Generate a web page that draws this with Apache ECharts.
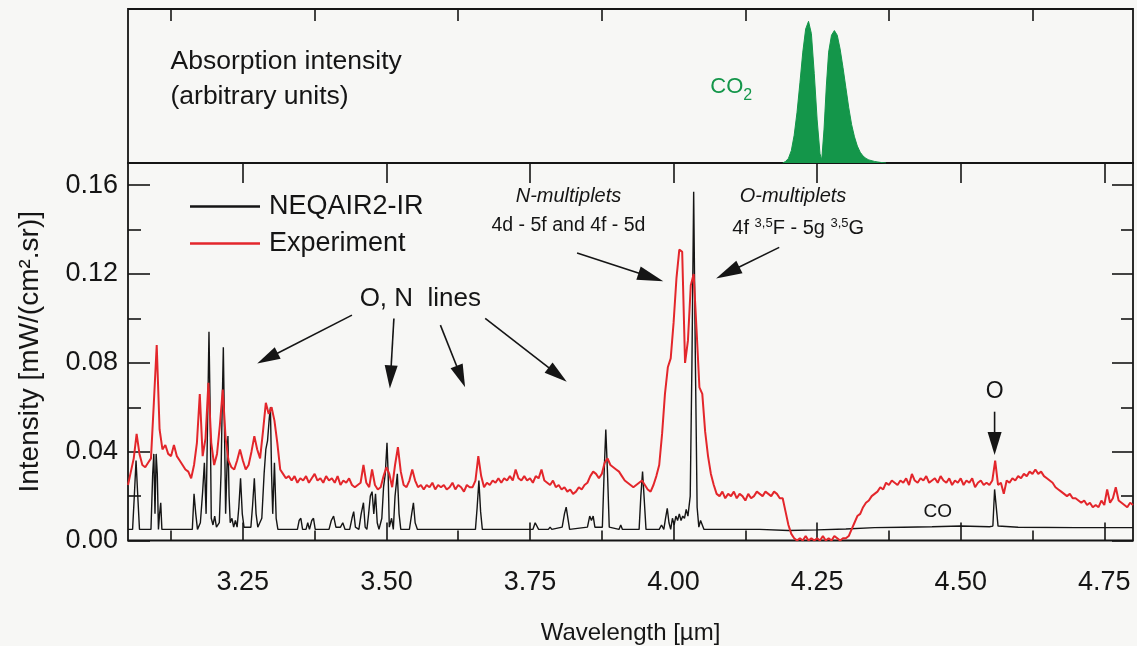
<!DOCTYPE html>
<html>
<head>
<meta charset="utf-8">
<script src="https://cdn.jsdelivr.net/npm/echarts@6/dist/echarts.min.js"></script>
<style>
  html, body { margin: 0; padding: 0; background: #f7f7f5; }
  #chart { width: 1137px; height: 646px; }
</style>
</head>
<body>
<div id="chart"></div>
<script>
// ---- tick values ----
const majorX = [3.25, 3.5, 3.75, 4.0, 4.25, 4.5, 4.75];
const minorX = [3.125, 3.375, 3.625, 3.875, 4.125, 4.375, 4.625];
const majorY = [0, 0.04, 0.08, 0.12, 0.16];
const minorY = [0.02, 0.06, 0.1, 0.14];

// ---- CO2 absorption (top panel, arbitrary units) ----
const co2Wl = [4.190, 4.195, 4.200, 4.205, 4.210, 4.215, 4.220, 4.225, 4.230, 4.235,
  4.240, 4.245, 4.250, 4.255, 4.258, 4.262, 4.266, 4.270, 4.275, 4.280,
  4.285, 4.290, 4.295, 4.300, 4.305, 4.310, 4.315, 4.320, 4.325, 4.330,
  4.335, 4.340, 4.350, 4.360, 4.370];
const co2Abs = [0, 0.01, 0.03, 0.08, 0.18, 0.33, 0.52, 0.72, 0.87, 0.92,
  0.84, 0.58, 0.28, 0.06, 0.02, 0.22, 0.50, 0.72, 0.83, 0.86,
  0.83, 0.74, 0.62, 0.49, 0.36, 0.25, 0.17, 0.11, 0.07, 0.045,
  0.03, 0.02, 0.01, 0.004, 0];

// ---- NEQAIR2-IR simulation ----
const neqairWl = [
  3.050, 3.058, 3.061, 3.064, 3.067, 3.070, 3.090, 3.093, 3.095, 3.097,
  3.099, 3.101, 3.103, 3.105, 3.107, 3.109, 3.162, 3.165, 3.168, 3.171,
  3.176, 3.180, 3.183, 3.186, 3.189, 3.191, 3.193, 3.195, 3.198, 3.201,
  3.204, 3.209, 3.212, 3.214, 3.216, 3.218, 3.220, 3.222, 3.224, 3.226,
  3.228, 3.231, 3.234, 3.237, 3.240, 3.243, 3.246, 3.249, 3.252, 3.264,
  3.267, 3.270, 3.273, 3.276, 3.283, 3.287, 3.290, 3.293, 3.296, 3.298,
  3.300, 3.302, 3.305, 3.308, 3.311, 3.345, 3.348, 3.351, 3.354, 3.360,
  3.363, 3.366, 3.370, 3.373, 3.376, 3.400, 3.404, 3.408, 3.412, 3.420,
  3.424, 3.428, 3.436, 3.440, 3.443, 3.446, 3.452, 3.456, 3.460, 3.463,
  3.466, 3.469, 3.472, 3.475, 3.478, 3.481, 3.484, 3.487, 3.492, 3.495,
  3.498, 3.501, 3.503, 3.505, 3.509, 3.512, 3.515, 3.519, 3.522, 3.525,
  3.540, 3.544, 3.547, 3.550, 3.554, 3.655, 3.658, 3.661, 3.664, 3.667,
  3.755, 3.759, 3.762, 3.765, 3.782, 3.785, 3.788, 3.806, 3.810, 3.813,
  3.816, 3.819, 3.850, 3.854, 3.857, 3.860, 3.863, 3.876, 3.879, 3.882,
  3.885, 3.888, 3.905, 3.908, 3.911, 3.940, 3.943, 3.946, 3.949, 3.952,
  3.975, 3.979, 3.983, 3.986, 3.989, 3.992, 3.995, 3.998, 4.001, 4.004,
  4.007, 4.010, 4.013, 4.016, 4.019, 4.022, 4.025, 4.029, 4.032, 4.035,
  4.038, 4.041, 4.044, 4.047, 4.050, 4.053, 4.150, 4.200, 4.250, 4.300,
  4.350, 4.400, 4.450, 4.500, 4.550, 4.556, 4.559, 4.562, 4.565, 4.600,
  4.700, 4.800];
const neqairInt = [
  0.005, 0.005, 0.020, 0.036, 0.020, 0.005, 0.005, 0.030, 0.039, 0.012,
  0.039, 0.030, 0.005, 0.012, 0.017, 0.005, 0.005, 0.021, 0.012, 0.005,
  0.008, 0.022, 0.035, 0.012, 0.060, 0.094, 0.060, 0.010, 0.007, 0.011,
  0.006, 0.008, 0.030, 0.060, 0.087, 0.050, 0.012, 0.030, 0.047, 0.020,
  0.008, 0.010, 0.006, 0.009, 0.006, 0.015, 0.028, 0.012, 0.006, 0.006,
  0.016, 0.028, 0.012, 0.006, 0.010, 0.030, 0.041, 0.045, 0.055, 0.060,
  0.030, 0.012, 0.035, 0.010, 0.005, 0.005, 0.009, 0.010, 0.005, 0.005,
  0.008, 0.005, 0.009, 0.010, 0.005, 0.005, 0.009, 0.011, 0.006, 0.006,
  0.008, 0.005, 0.005, 0.010, 0.013, 0.006, 0.005, 0.012, 0.017, 0.006,
  0.005, 0.012, 0.020, 0.022, 0.012, 0.021, 0.008, 0.005, 0.010, 0.024,
  0.030, 0.044, 0.030, 0.006, 0.010, 0.005, 0.020, 0.030, 0.012, 0.005,
  0.005, 0.012, 0.017, 0.008, 0.005, 0.005, 0.015, 0.027, 0.013, 0.005,
  0.005, 0.008, 0.008, 0.005, 0.005, 0.006, 0.005, 0.006, 0.012, 0.015,
  0.010, 0.005, 0.006, 0.011, 0.009, 0.011, 0.006, 0.006, 0.030, 0.050,
  0.030, 0.006, 0.005, 0.007, 0.005, 0.005, 0.020, 0.031, 0.018, 0.005,
  0.005, 0.007, 0.005, 0.010, 0.0145, 0.008, 0.005, 0.010, 0.007, 0.011,
  0.009, 0.012, 0.009, 0.011, 0.010, 0.014, 0.011, 0.020, 0.080, 0.157,
  0.080, 0.015, 0.006, 0.009, 0.009, 0.005, 0.005, 0.0045, 0.0048, 0.0052,
  0.0058, 0.006, 0.0062, 0.0065, 0.0062, 0.0065, 0.023, 0.023, 0.0065, 0.006,
  0.0058, 0.0058];

// ---- Experiment (sampled every 0.005 um from 3.050 um) ----
const expStart = 3.05;
const expStep = 0.005;
const expInt = [
  0.025, 0.031, 0.037, 0.048, 0.039, 0.034, 0.033, 0.035, 0.037, 0.062, // 3.05
  0.088, 0.050, 0.041, 0.043, 0.039, 0.038, 0.043, 0.038, 0.036, 0.034, // 3.10
  0.032, 0.031, 0.028, 0.034, 0.044, 0.066, 0.038, 0.046, 0.071, 0.044, // 3.15
  0.034, 0.039, 0.052, 0.068, 0.046, 0.036, 0.033, 0.032, 0.036, 0.041, // 3.20
  0.036, 0.032, 0.034, 0.040, 0.047, 0.041, 0.037, 0.049, 0.062, 0.057, // 3.25
  0.060, 0.054, 0.044, 0.032, 0.030, 0.028, 0.029, 0.027, 0.029, 0.026, // 3.30
  0.028, 0.027, 0.029, 0.026, 0.028, 0.030, 0.027, 0.028, 0.026, 0.029, // 3.35
  0.027, 0.028, 0.026, 0.029, 0.025, 0.027, 0.026, 0.028, 0.025, 0.024, // 3.40
  0.025, 0.026, 0.034, 0.026, 0.024, 0.032, 0.025, 0.023, 0.024, 0.029, // 3.45
  0.033, 0.030, 0.024, 0.034, 0.042, 0.031, 0.025, 0.024, 0.027, 0.032, // 3.50
  0.027, 0.024, 0.025, 0.023, 0.025, 0.024, 0.026, 0.023, 0.025, 0.024, // 3.55
  0.025, 0.023, 0.024, 0.026, 0.023, 0.025, 0.024, 0.022, 0.025, 0.024, // 3.60
  0.024, 0.027, 0.038, 0.029, 0.024, 0.026, 0.025, 0.027, 0.026, 0.028, // 3.65
  0.026, 0.028, 0.027, 0.029, 0.027, 0.032, 0.028, 0.027, 0.029, 0.027, // 3.70
  0.028, 0.026, 0.029, 0.028, 0.032, 0.027, 0.026, 0.025, 0.027, 0.024, // 3.75
  0.025, 0.023, 0.024, 0.022, 0.023, 0.021, 0.022, 0.024, 0.023, 0.025, // 3.80
  0.026, 0.029, 0.031, 0.030, 0.028, 0.030, 0.035, 0.037, 0.034, 0.033, // 3.85
  0.032, 0.031, 0.029, 0.027, 0.026, 0.025, 0.024, 0.025, 0.026, 0.027, // 3.90
  0.025, 0.023, 0.022, 0.025, 0.029, 0.034, 0.048, 0.066, 0.078, 0.082, // 3.95
  0.098, 0.118, 0.131, 0.130, 0.080, 0.090, 0.115, 0.120, 0.095, 0.069, // 4.00
  0.066, 0.049, 0.038, 0.030, 0.025, 0.021, 0.020, 0.022, 0.019, 0.021, // 4.05
  0.020, 0.022, 0.019, 0.021, 0.020, 0.018, 0.021, 0.019, 0.020, 0.022, // 4.10
  0.021, 0.020, 0.022, 0.021, 0.020, 0.022, 0.021, 0.019, 0.019, 0.013, // 4.15
  0.007, 0.003, 0.001, 0.000, 0.001, 0.000, 0.002, 0.000, 0.001, 0.000, // 4.20
  0.001, 0.000, 0.002, 0.000, 0.001, 0.000, 0.002, 0.001, 0.000, 0.001, // 4.25
  0.001, 0.002, 0.005, 0.008, 0.011, 0.012, 0.015, 0.017, 0.018, 0.020, // 4.30
  0.021, 0.022, 0.024, 0.023, 0.026, 0.025, 0.027, 0.026, 0.025, 0.027, // 4.35
  0.026, 0.028, 0.025, 0.030, 0.027, 0.026, 0.028, 0.027, 0.029, 0.026, // 4.40
  0.027, 0.028, 0.026, 0.029, 0.027, 0.026, 0.028, 0.025, 0.027, 0.026, // 4.45
  0.028, 0.025, 0.027, 0.026, 0.028, 0.024, 0.026, 0.027, 0.025, 0.026, // 4.50
  0.025, 0.027, 0.036, 0.025, 0.026, 0.021, 0.027, 0.026, 0.028, 0.027, // 4.55
  0.029, 0.028, 0.030, 0.029, 0.031, 0.030, 0.032, 0.030, 0.031, 0.029, // 4.60
  0.028, 0.027, 0.026, 0.024, 0.023, 0.022, 0.021, 0.020, 0.021, 0.019, // 4.65
  0.019, 0.018, 0.017, 0.018, 0.016, 0.017, 0.015, 0.016, 0.015, 0.018, // 4.70
  0.016, 0.023, 0.017, 0.019, 0.024, 0.018, 0.017, 0.016, 0.015, 0.017, // 4.75
  0.016];

// ---- annotation anchors (data units of the panel they sit in) ----
const arrowTails = [[3.440, 0.1015], [3.513, 0.100], [3.594, 0.097], [3.672, 0.100],
  [3.832, 0.1295], [4.184, 0.132], [4.559, 0.058]];
const arrowTips = [[3.275, 0.0797], [3.506, 0.0685], [3.637, 0.069], [3.814, 0.0715],
  [3.982, 0.1168], [4.074, 0.118], [4.559, 0.0385]];

const FONT = '"Liberation Sans", Arial, Helvetica, sans-serif';
const INK = '#151515';
const RED = '#e3262b';
const GREEN = '#14964a';

const co2Data = co2Wl.map((w, i) => [w, co2Abs[i]]);
const neqairData = neqairWl.map((w, i) => [w, neqairInt[i]]);
const expData = expInt.map((v, i) => [+(expStart + i * expStep).toFixed(3), v]);

function tickAxis(extra, ticks, len) {
  return Object.assign({
    type: 'value',
    axisLine: { show: false },
    splitLine: { show: false },
    axisLabel: { show: false },
    axisTick: {
      show: true, inside: true, length: len, customValues: ticks,
      lineStyle: { color: INK, width: 1.6 }
    }
  }, extra);
}

const xr = { min: 3.05, max: 4.8 };

let myChart = echarts.init(document.getElementById('chart'));

let option = {
  backgroundColor: '#f7f7f5',
  animation: false,
  grid: [
    { left: 128, right: 4, top: 9, height: 154, outerBoundsMode: 'none', show: true,
      borderColor: INK, borderWidth: 1.8, backgroundColor: 'transparent' },
    { left: 128, right: 4, top: 163, bottom: 105.5, outerBoundsMode: 'none', show: true,
      borderColor: INK, borderWidth: 1.8, backgroundColor: 'transparent' }
  ],
  legend: {
    orient: 'vertical',
    left: 185,
    top: 188,
    itemWidth: 70,
    itemHeight: 2.5,
    itemGap: 10,
    icon: 'rect',
    data: ['NEQAIR2-IR', 'Experiment'],
    textStyle: { fontFamily: FONT, fontSize: 27, color: INK, padding: [0, 0, 0, 4] }
  },
  xAxis: [
    tickAxis(Object.assign({ gridIndex: 0, position: 'top' }, xr), majorX, 20),
    tickAxis(Object.assign({ gridIndex: 0, position: 'top' }, xr), minorX, 12),
    Object.assign(tickAxis(Object.assign({ gridIndex: 1, position: 'bottom' }, xr), majorX, 18), {
      axisLabel: {
        show: true, customValues: majorX, margin: 29,
        fontFamily: FONT, fontSize: 27, color: INK,
        formatter: (v) => Number(v).toFixed(2)
      },
      name: 'Wavelength [\u00b5m]',
      nameLocation: 'middle',
      nameGap: 81,
      nameTextStyle: { fontFamily: FONT, fontSize: 24, color: INK }
    }),
    tickAxis(Object.assign({ gridIndex: 1, position: 'bottom' }, xr), minorX, 10)
  ],
  yAxis: [
    { type: 'value', gridIndex: 0, min: 0, max: 1, show: false },
    Object.assign(tickAxis({ gridIndex: 1, position: 'left', min: 0, max: 0.17 }, majorY, 22), {
      axisLabel: {
        show: true, customValues: majorY, margin: 10,
        fontFamily: FONT, fontSize: 27, color: INK,
        formatter: (v) => Number(v).toFixed(2)
      },
      name: 'Intensity [mW/(cm\u00b2.sr)]',
      nameLocation: 'middle',
      nameGap: 84,
      nameTextStyle: { fontFamily: FONT, fontSize: 28, color: INK }
    }),
    tickAxis({ gridIndex: 1, position: 'left', min: 0, max: 0.17 }, minorY, 13),
    tickAxis({ gridIndex: 1, position: 'right', min: 0, max: 0.17 }, majorY, 21),
    tickAxis({ gridIndex: 1, position: 'right', min: 0, max: 0.17 }, minorY, 12)
  ],
  series: [
    {
      name: 'CO2',
      type: 'line',
      xAxisIndex: 0,
      yAxisIndex: 0,
      data: co2Data,
      showSymbol: false,
      symbol: 'none',
      lineStyle: { color: GREEN, width: 1 },
      areaStyle: { color: GREEN, opacity: 1 },
      silent: true
    },
    {
      name: 'NEQAIR2-IR',
      type: 'line',
      xAxisIndex: 2,
      yAxisIndex: 1,
      data: neqairData,
      symbol: 'none',
      color: INK,
      lineStyle: { color: INK, width: 1.4 },
      z: 2
    },
    {
      name: 'Experiment',
      type: 'line',
      xAxisIndex: 2,
      yAxisIndex: 1,
      data: expData,
      symbol: 'none',
      color: RED,
      lineStyle: { color: RED, width: 2 },
      z: 3
    }
  ]
};

myChart.setOption(option, true);

// annotations placed through the series' own coordinate systems
const topPx = (p) => myChart.convertToPixel({ seriesIndex: 0 }, p);
const botPx = (p) => myChart.convertToPixel({ seriesIndex: 1 }, p);

function label(pos, text, size, extra) {
  return {
    type: 'text', x: pos[0], y: pos[1], z: 50,
    style: Object.assign({
      text: text, fontFamily: FONT, fontSize: size, fill: INK,
      align: 'center', verticalAlign: 'middle'
    }, extra || {})
  };
}

function arrow(tail, tip, headLen, headHalf) {
  const [x1, y1] = botPx(tail);
  const [x2, y2] = botPx(tip);
  const dx = x2 - x1, dy = y2 - y1;
  const L = Math.hypot(dx, dy);
  const ux = dx / L, uy = dy / L;
  const bx = x2 - ux * headLen, by = y2 - uy * headLen;
  return [
    { type: 'line', z: 50, shape: { x1: x1, y1: y1, x2: bx + ux * 3, y2: by + uy * 3 },
      style: { stroke: INK, lineWidth: 1.6 } },
    { type: 'polygon', z: 50,
      shape: { points: [[x2, y2], [bx - uy * headHalf, by + ux * headHalf], [bx + uy * headHalf, by - ux * headHalf]] },
      style: { fill: INK } }
  ];
}

const supRich = {
  sup: { fontFamily: FONT, fontSize: 13, fill: INK, verticalAlign: 'top', lineHeight: 24 },
  base: { fontFamily: FONT, fontSize: 20, fill: INK, lineHeight: 24 }
};

let graphics = [
  label(topPx([3.124, 0.657]), 'Absorption intensity', 26.5, { align: 'left' }),
  label(topPx([3.124, 0.43]), '(arbitrary units)', 26.5, { align: 'left' }),
  label(topPx([4.064, 0.494]), '{c|CO}{s|2}', 22, {
    align: 'left', fill: GREEN,
    rich: {
      c: { fontFamily: FONT, fontSize: 22, fill: GREEN, lineHeight: 34, verticalAlign: 'middle' },
      s: { fontFamily: FONT, fontSize: 16, fill: GREEN, lineHeight: 34, verticalAlign: 'bottom' }
    }
  }),
  label(botPx([3.559, 0.109]), 'O, N  lines', 26),
  label(botPx([3.817, 0.155]), 'N-multiplets', 20, { fontStyle: 'italic' }),
  label(botPx([3.817, 0.142]), '4d - 5f and 4f - 5d', 19.5),
  label(botPx([4.208, 0.155]), 'O-multiplets', 20, { fontStyle: 'italic' }),
  label(botPx([4.217, 0.1405]), '{base|4f }{sup|3,5}{base|F - 5g }{sup|3,5}{base|G}', 20, { rich: supRich }),
  label(botPx([4.559, 0.067]), 'O', 23),
  label(botPx([4.46, 0.0128]), 'CO', 19)
];

const heads = [[23, 6.5], [23, 6.5], [23, 6.5], [23, 6.5], [26, 7], [26, 7], [23, 7]];
arrowTails.forEach((t, i) => {
  graphics = graphics.concat(arrow(t, arrowTips[i], heads[i][0], heads[i][1]));
});

myChart.setOption({ graphic: graphics });

window.addEventListener('resize', () => {
  myChart.resize();
});
</script>
</body>
</html>
